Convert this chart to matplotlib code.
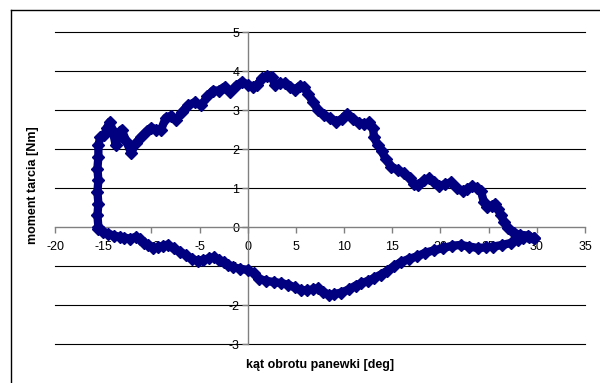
import matplotlib
matplotlib.use('Agg')
import matplotlib.pyplot as plt
from matplotlib.lines import Line2D

plt.rcParams['font.family'] = ['Liberation Sans', 'DejaVu Sans']
plt.rcParams['axes.unicode_minus'] = False

# upper branch: up the left edge, then across the top to the right end
upper_x = [-15.5, -15.6, -15.5, -15.6, -15.5, -15.6, -15.5, -15.5, -15.3, -14.9,
           -14.6, -14.3, -14.0, -13.7, -13.4, -13.1, -12.6, -12.1, -11.6, -11.1,
           -10.5, -10.0, -9.5, -9.0, -8.5, -8.0, -7.4, -6.8, -6.2, -5.5,
           -4.8, -4.2, -3.6, -3.0, -2.4, -1.8, -1.2, -0.6, 0.0, 0.5,
           1.0, 1.5, 2.0, 2.5, 2.8, 3.3, 3.9, 4.4, 4.9, 5.4,
           5.8, 6.3, 6.8, 7.3, 7.9, 8.5, 9.2, 9.8, 10.3, 10.9,
           11.5, 12.1, 12.6, 13.0, 13.1, 13.5, 13.9, 14.3, 14.9, 15.6,
           16.2, 16.8, 17.3, 17.7, 18.3, 18.8, 19.3, 19.8, 20.5, 21.1,
           21.7, 22.3, 22.8, 23.3, 23.8, 24.2, 24.5, 24.8, 25.3, 25.7,
           26.0, 26.3, 26.6, 27.0, 27.6, 28.3, 29.1, 29.7]
upper_y = [0.0, 0.3, 0.6, 0.9, 1.2, 1.5, 1.8, 2.1, 2.3, 2.35,
           2.55, 2.7, 2.45, 2.1, 2.4, 2.5, 2.2, 1.9, 2.15, 2.3,
           2.45, 2.55, 2.5, 2.5, 2.8, 2.85, 2.75, 2.95, 3.12, 3.2,
           3.12, 3.35, 3.5, 3.5, 3.6, 3.45, 3.62, 3.72, 3.65, 3.6,
           3.65, 3.82, 3.88, 3.85, 3.65, 3.68, 3.7, 3.6, 3.52, 3.62,
           3.6, 3.4, 3.2, 3.0, 2.87, 2.8, 2.7, 2.78, 2.9, 2.78,
           2.67, 2.65, 2.68, 2.55, 2.3, 2.1, 1.95, 1.75, 1.55, 1.46,
           1.38, 1.25, 1.1, 1.08, 1.2, 1.25, 1.15, 1.05, 1.1, 1.15,
           1.0, 0.92, 0.98, 1.05, 1.0, 0.92, 0.65, 0.52, 0.55, 0.6,
           0.45, 0.3, 0.12, -0.02, -0.15, -0.2, -0.22, -0.28]

# lower branch: from the left corner along the bottom to the right end
lower_x = [-15.5, -15.0, -14.5, -13.9, -13.3, -12.8, -12.2, -11.6, -11.2, -10.8,
           -10.3, -9.8, -9.3, -8.8, -8.3, -7.7, -7.0, -6.4, -5.8, -5.2,
           -4.6, -4.0, -3.5, -3.0, -2.5, -2.0, -1.5, -0.8, 0.0, 0.6,
           1.2, 1.9, 2.7, 3.5, 4.2, 4.9, 5.5, 6.2, 6.8, 7.3,
           7.8, 8.4, 9.0, 9.7, 10.5, 11.2, 11.8, 12.5, 13.1, 13.8,
           14.5, 15.2, 15.9, 16.7, 17.6, 18.4, 19.3, 20.3, 21.2, 22.1,
           23.0, 23.9, 24.7, 25.5, 26.4, 27.3, 28.0, 28.6, 29.2, 29.7]
lower_y = [-0.05, -0.12, -0.17, -0.22, -0.25, -0.27, -0.3, -0.25, -0.3, -0.4,
           -0.46, -0.53, -0.52, -0.48, -0.45, -0.55, -0.64, -0.72, -0.82, -0.86,
           -0.84, -0.8, -0.77, -0.84, -0.9, -0.97, -1.03, -1.07, -1.1, -1.18,
           -1.33, -1.38, -1.41, -1.44, -1.48, -1.55, -1.62, -1.62, -1.6, -1.56,
           -1.66, -1.74, -1.72, -1.68, -1.6, -1.5, -1.44, -1.38, -1.31, -1.22,
           -1.12, -1.0, -0.9, -0.82, -0.75, -0.66, -0.6, -0.54, -0.48, -0.46,
           -0.5, -0.54, -0.52, -0.5, -0.46, -0.41, -0.34, -0.28, -0.26, -0.28]

x_ticks = [-20, -15, -10, -5, 0, 5, 10, 15, 20, 25, 30, 35]
y_ticks = [-3, -2, -1, 0, 1, 2, 3, 4, 5]

navy = '#000080'

fig = plt.figure(figsize=(6.0, 3.83), dpi=100)
ax = fig.add_axes([0.0917, 0.1018, 0.8833, 0.8146])

for xs, ys in [(upper_x, upper_y), (lower_x, lower_y)]:
    ax.plot(xs, ys, color=navy, lw=6, solid_capstyle='round',
            solid_joinstyle='round', zorder=3)
    ax.plot(xs, ys, linestyle='none', marker='D', markersize=6,
            color=navy, zorder=4)

ax.set_xlim(-20, 35)
ax.set_ylim(-3, 5)
ax.set_xticks(x_ticks)
ax.set_yticks(y_ticks)

for y in y_ticks:
    if y != 0:
        ax.axhline(y, color='black', lw=0.8, zorder=1, clip_on=False)

ax.spines['left'].set_position(('data', 0))
ax.spines['bottom'].set_position(('data', 0))
ax.spines['top'].set_visible(False)
ax.spines['right'].set_visible(False)
for s in ['left', 'bottom']:
    ax.spines[s].set_color('#808080')
    ax.spines[s].set_linewidth(1.0)
    ax.spines[s].set_zorder(2)

ax.tick_params(axis='both', direction='out', length=4, width=1.0,
               color='#808080', labelsize=9, labelcolor='black')
ax.tick_params(axis='x', pad=6)
ax.tick_params(axis='y', pad=2)

fig.text(0.533, 1 - 365 / 383, 'kąt obrotu panewki [deg]', fontsize=9,
         fontweight='bold', ha='center', va='center')
fig.text(0.055, 1 - 185 / 383, 'moment tarcia [Nm]', fontsize=9,
         fontweight='bold', ha='center', va='center', rotation=90)

# outer chart border (runs off the right and bottom edges)
fig.add_artist(Line2D([11 / 600, 11 / 600], [0, 1 - 10 / 383],
                      transform=fig.transFigure, color='black', lw=1.0))
fig.add_artist(Line2D([11 / 600, 1], [1 - 10 / 383, 1 - 10 / 383],
                      transform=fig.transFigure, color='black', lw=1.0))

fig.savefig('out.png', dpi=100)
